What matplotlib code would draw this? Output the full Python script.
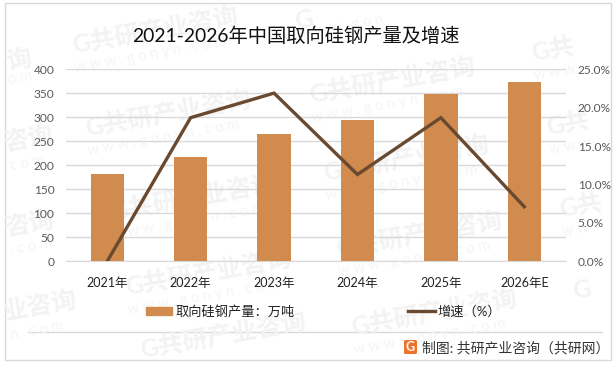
import matplotlib
matplotlib.use("Agg")
import matplotlib.pyplot as plt
from matplotlib.patches import Rectangle, FancyBboxPatch

plt.rcParams["font.family"] = ["Lato", "Noto Sans CJK SC", "DejaVu Sans"]

W, H = 613, 365

years = ["2021年", "2022年", "2023年", "2024年", "2025年", "2026年E"]
output = [182, 217, 265, 294, 348, 373]
growth = [0.0, 18.7, 21.9, 11.3, 18.7, 7.1]
left_ticks = [0, 50, 100, 150, 200, 250, 300, 350, 400]
right_ticks = [0, 5, 10, 15, 20, 25]

BAR = "#d18b4f"
LINE = "#69492f"
GRID = "#d9d9d9"
TICK = "#595959"
STAMP = "#f3f3f3"
URL = "#f5f5f5"

fig = plt.figure(figsize=(W / 100, H / 100), dpi=100)


def px_axes(x0, y0, x1, y1):
    # box given in image pixels, y going down
    return fig.add_axes([x0 / W, 1 - y1 / H, (x1 - x0) / W, (y1 - y0) / H])


# background layer: frame, watermarks, footer rule
bg = px_axes(0, 0, W, H)
bg.set_xlim(0, W)
bg.set_ylim(H, 0)
bg.axis("off")
bg.add_patch(Rectangle((4.5, 2.5), 606, 357.5, fill=False, ec=GRID, lw=1))
bg.plot([28, 602], [331.5, 331.5], color=GRID, lw=1)

# watermark pieces as they show in the picture, cut ones hold only the visible part
full = "G共研产业咨询"
url = "w w w . g o n y n . c o m"
stamps = [(72, 45, full), (85, 128, full), (110, 212, full), (125, 287, full),
          (140, 350, full), (309, 95, full), (323, 173, full), (336, 249, full),
          (351, 327, full), (531, 53, "G共"), (546, 127, "G共"), (559, 209, "G共"),
          (573, 292, "G"), (295, 22, "G"), (6, 62, "询"), (4, 143, "咨询"),
          (5, 228, "咨询"), (3, 312, "业咨询")]
urls = [(75, 68, url), (88, 151, url), (113, 235, url), (128, 310, url),
        (312, 118, url), (326, 196, url), (339, 272, url), (354, 350, url),
        (534, 76, "w w w"), (549, 150, "w w w"), (562, 232, "w w"), (8, 80, "o m"),
        (10, 166, "c o m"), (10, 250, ". c o m"), (10, 335, "n . c o m"),
        (300, 34, "w w w . g o n")]
for mx, my, s in stamps:
    bg.text(mx, my, s, color=STAMP, fontsize=18, fontweight="bold",
            rotation=10, rotation_mode="anchor", ha="left", va="center")
for mx, my, s in urls:
    bg.text(mx, my, s, color=URL, fontsize=10.5,
            rotation=10, rotation_mode="anchor", ha="left", va="center")

ax = px_axes(65.5, 69.3, 566, 261.3)
ax.patch.set_alpha(0)
x = list(range(len(years)))
ax.bar(x, output, width=0.4, color=BAR, label="取向硅钢产量：万吨", zorder=3)
ax.set_xlim(-0.5, 5.5)
ax.set_ylim(0, 400)
ax.set_yticks(left_ticks)
ax.set_xticks(x)
ax.set_xticklabels(years, fontsize=9, color="#222222")
ax.tick_params(axis="both", length=0)
ax.tick_params(axis="x", pad=11)
ax.tick_params(axis="y", labelsize=8.6, labelcolor=TICK, pad=8)
ax.grid(axis="y", color=GRID, lw=1, zorder=0)
ax.set_axisbelow(True)
for s in ["top", "left", "right"]:
    ax.spines[s].set_visible(False)
ax.spines["bottom"].set_color(GRID)

ax2 = ax.twinx()
ax2.plot(x, growth, color=LINE, lw=2.4, label="增速（%）", zorder=4, solid_joinstyle="miter")
ax2.set_ylim(0, 25)
ax2.set_yticks(right_ticks)
ax2.set_yticklabels([f"{v:.1f}%" for v in right_ticks])
ax2.tick_params(axis="y", length=0, labelsize=8.6, labelcolor=TICK, pad=8.5)
for s in ax2.spines.values():
    s.set_visible(False)

# title, legend and source sit on top, all in image pixels
fg = px_axes(0, 0, W, H)
fg.set_xlim(0, W)
fg.set_ylim(H, 0)
fg.axis("off")
fg.patch.set_alpha(0)
fg.text(295.5, 36, "2021-2026年中国取向硅钢产量及增速", fontsize=13.9, color="#111111",
        ha="center", va="center")
fg.add_patch(Rectangle((146, 307), 25.5, 8, color=BAR))
fg.text(175, 311, "取向硅钢产量：万吨", fontsize=9.5, color="#222222", va="center")
fg.plot([407.5, 435], [310.5, 310.5], color=LINE, lw=2.4)
fg.text(437, 311, "增速（%）", fontsize=9.5, color="#222222", va="center")
fg.add_patch(FancyBboxPatch((405, 341), 11, 12, boxstyle="round,pad=1,rounding_size=1.5",
                            fc="#f0722b", ec="none"))
fg.text(410.5, 347, "G", color="white", fontsize=9, fontweight="bold", ha="center", va="center")
fg.text(422.5, 347.5, "制图: 共研产业咨询（共研网）", fontsize=10, color="#333333", va="center")

fig.savefig("out.png", dpi=100)
